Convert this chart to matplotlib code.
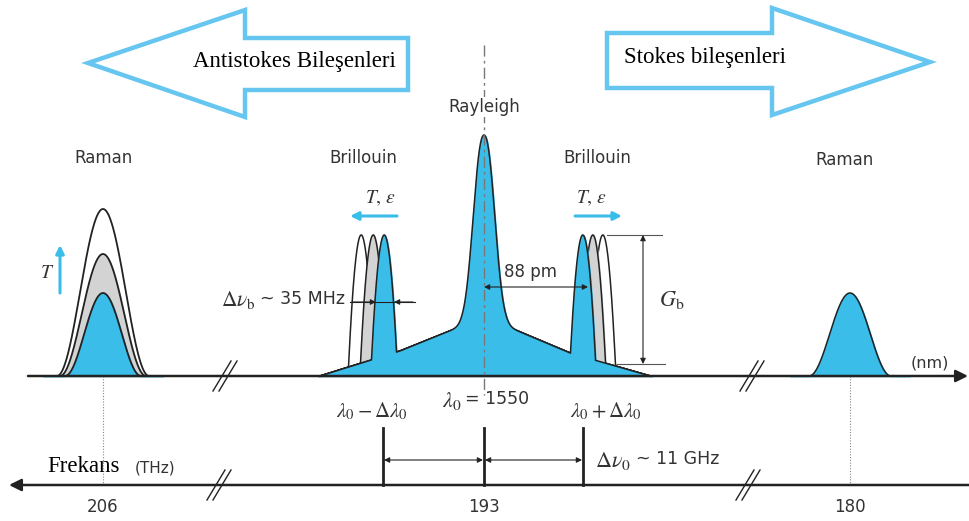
import numpy as np
import matplotlib
matplotlib.use('Agg')
import matplotlib.pyplot as plt
from matplotlib.patches import Polygon

plt.rcParams['font.family'] = 'DejaVu Sans'
plt.rcParams['mathtext.fontset'] = 'stix'

# drawing works in pixel units of the picture (y grows downwards)
base_y = 376     # wavelength axis
freq_y = 485     # frequency axis

# frequency axis ticks (THz)
freq_x = [103, 484, 850]
freq_labels = ['206', '193', '180']

# anti-Stokes Raman peak at three temperatures (white, grey, blue): height, half base width
raman_left_x = 103
raman_left_h = [167, 122, 83]
raman_left_w = [46, 43, 38]
# Stokes Raman peak
raman_right_x = 850
raman_right_h = 83
raman_right_w = 41

# pedestal under the Rayleigh line
ped_x = [320, 400, 462, 484, 506, 570, 650]
ped_h = [0, 25, 50, 54, 50, 23, 0]

rayleigh_x = 484
rayleigh_h = 187
rayleigh_w = 14

# Brillouin peaks (white, grey, blue)
brill_left_x = [361, 373, 384]
brill_right_x = [603, 593, 583]
brill_top = 141
brill_w = 12.5

# lambda0 - dl, lambda0, lambda0 + dl on the frequency axis
shift_x = [383, 484, 583]

blue = '#3bbdea'
arrow_blue = '#66c6f0'
grey = '#d3d3d3'
dark = '#222222'
txt = '#333333'
fills = ['white', grey, blue]


def bell(x, c, h, w):
    u = np.clip(np.abs(x - c) / w, 0, 1)
    return h * np.cos(u * np.pi / 2) ** 2


def spike(x, c, h, w):
    u = np.clip(np.abs(x - c) / w, 0, 1)
    return h * (1 - u ** 2)


def rayleigh(x):
    return rayleigh_h * np.exp(-(np.abs(x - rayleigh_x) / rayleigh_w) ** 2.3)


def pedestal(x):
    return np.interp(x, ped_x, ped_h, left=0, right=0)


fig = plt.figure(figsize=(9.69, 5.21), dpi=100)
ax = fig.add_axes([0, 0, 1, 1])
ax.set_xlim(0, 969)
ax.set_ylim(521, 0)
ax.axis('off')

# big direction arrows
left_arrow = [(88, 63), (245, 10), (245, 38), (408, 38), (408, 90), (245, 90), (245, 117)]
right_arrow = [(607, 33), (772, 33), (772, 8), (930, 62), (772, 115), (772, 88), (607, 88)]
for pts in [left_arrow, right_arrow]:
    ax.add_patch(Polygon(pts, closed=True, fc='white', ec=arrow_blue, lw=3.2, joinstyle='miter'))
ax.text(294, 61, 'Antistokes Bileşenleri', family='Liberation Serif', fontsize=16.5,
        ha='center', va='center')
ax.text(705, 58, 'Stokes bileşenleri', family='Liberation Serif', fontsize=16.5,
        ha='center', va='center')

# Raman anti-Stokes
xr = np.linspace(raman_left_x - 60, raman_left_x + 60, 400)
for h, w, fc in zip(raman_left_h, raman_left_w, fills):
    y = base_y - bell(xr, raman_left_x, h, w)
    ax.fill_between(xr, base_y, y, color=fc, zorder=2)
    ax.plot(xr, y, color=dark, lw=1.3, zorder=2)

# Raman Stokes
xr2 = np.linspace(raman_right_x - 60, raman_right_x + 60, 400)
y = base_y - bell(xr2, raman_right_x, raman_right_h, raman_right_w)
ax.fill_between(xr2, base_y, y, color=blue, zorder=2)
ax.plot(xr2, y, color=dark, lw=1.1, zorder=2)

# Brillouin shifted copies (white, grey) then the blue main profile
xs = np.linspace(318, 652, 3000)
ped = pedestal(xs)
for i in range(2):
    for c in [brill_left_x[i], brill_right_x[i]]:
        amp = brill_top - pedestal(c)
        y = base_y - (ped + spike(xs, c, amp, brill_w))
        ax.fill_between(xs, base_y, y, color=fills[i], zorder=3)
        ax.plot(xs, y, color=dark, lw=1.1, zorder=3)

prof = ped + rayleigh(xs)
for c in [brill_left_x[2], brill_right_x[2]]:
    prof = prof + spike(xs, c, brill_top - pedestal(c), brill_w)
ax.fill_between(xs, base_y, base_y - prof, color=blue, zorder=4)
ax.plot(xs, base_y - prof, color=dark, lw=1.1, zorder=4)

# axes
ax.annotate('', xy=(968, base_y), xytext=(28, base_y),
            arrowprops=dict(arrowstyle='-|>', lw=1.8, color=dark, mutation_scale=18,
                            shrinkA=0, shrinkB=0), zorder=5)
ax.annotate('', xy=(9, freq_y), xytext=(969, freq_y),
            arrowprops=dict(arrowstyle='-|>', lw=1.8, color=dark, mutation_scale=18,
                            shrinkA=0, shrinkB=0), zorder=5)
# axis breaks
for bx, by in [(225, base_y), (752, base_y), (219, freq_y), (748, freq_y)]:
    for off in [-3, 3]:
        ax.plot([bx + off - 9, bx + off + 9], [by + 15, by - 15], color=dark, lw=1.0, zorder=6)

# dotted guides from the Raman peaks
for x0 in [raman_left_x, raman_right_x]:
    ax.plot([x0, x0], [base_y, freq_y], color='#888888', lw=0.8, ls=(0, (1, 1.5)), zorder=1)

# Rayleigh centre line
ax.plot([rayleigh_x, rayleigh_x], [45, 395], color='#777777', lw=1.0,
        ls=(0, (8, 3, 2, 3)), zorder=6)

# labels of the peaks
lab = dict(fontsize=12, ha='center', va='center', color=txt, zorder=7)
ax.text(104, 158, 'Raman', **lab)
ax.text(845, 160, 'Raman', **lab)
ax.text(363, 158, 'Brillouin', **lab)
ax.text(597, 158, 'Brillouin', **lab)
ax.text(484, 107, 'Rayleigh', bbox=dict(fc='white', ec='none', pad=1), **lab)

# temperature arrows
ax.text(47, 272, '$T$', fontsize=14, ha='center', va='center', color=txt)
ax.annotate('', xy=(60, 245), xytext=(60, 293),
            arrowprops=dict(arrowstyle='-|>', lw=2.2, color=blue, mutation_scale=12,
                            shrinkA=0, shrinkB=0))
ax.text(381, 198, r'$T,\,\varepsilon$', fontsize=14, ha='center', va='center', color=txt)
ax.text(592, 198, r'$T,\,\varepsilon$', fontsize=14, ha='center', va='center', color=txt)
ax.annotate('', xy=(350, 216), xytext=(397, 216),
            arrowprops=dict(arrowstyle='-|>', lw=2.2, color=blue, mutation_scale=12,
                            shrinkA=0, shrinkB=0))
ax.annotate('', xy=(622, 216), xytext=(575, 216),
            arrowprops=dict(arrowstyle='-|>', lw=2.2, color=blue, mutation_scale=12,
                            shrinkA=0, shrinkB=0))

thin = dict(lw=0.8, color=dark, mutation_scale=8, shrinkA=0, shrinkB=0)

# Brillouin linewidth
ax.plot([350, 415], [302, 302], color=dark, lw=0.8, zorder=6)
ax.annotate('', xy=(376, 302), xytext=(352, 302), arrowprops=dict(arrowstyle='-|>', **thin), zorder=6)
ax.annotate('', xy=(394, 302), xytext=(413, 302), arrowprops=dict(arrowstyle='-|>', **thin), zorder=6)
ax.text(256, 300, r'$\Delta\nu_{\mathrm{b}}$', fontsize=15.5, ha='right', va='center', color=txt)
ax.text(345, 299, '~ 35 MHz', fontsize=12.5, ha='right', va='center', color=txt)

# 88 pm shift
ax.annotate('', xy=(588, 287), xytext=(484, 287), arrowprops=dict(arrowstyle='<|-|>', **thin), zorder=6)
ax.text(531, 272, '88 pm', fontsize=12, ha='center', va='center', color=txt)

# Brillouin gain
ax.plot([607, 662], [235, 235], color='#555555', lw=0.8)
ax.plot([613, 665], [364, 364], color='#555555', lw=0.8)
ax.annotate('', xy=(643, 235), xytext=(643, 364), arrowprops=dict(arrowstyle='<|-|>', **thin))
ax.text(672, 300, r'$G_{\mathrm{b}}$', fontsize=16, ha='center', va='center', color=txt)

ax.text(930, 363, '(nm)', fontsize=11.5, ha='center', va='center', color=txt)

# wavelength labels and frequency shift marks
ax.text(372, 411, r'$\lambda_{0} - \Delta\lambda_{0}$', fontsize=15,
        ha='center', va='center', color=txt)
ax.text(462, 401, r'$\lambda_{0}$', fontsize=16, ha='right', va='center', color=txt)
ax.text(465, 399, '= 1550', fontsize=12.5, ha='left', va='center', color=txt)
ax.text(606, 411, r'$\lambda_{0} + \Delta\lambda_{0}$', fontsize=15,
        ha='center', va='center', color=txt)
for x0 in shift_x:
    ax.plot([x0, x0], [428, freq_y], color=dark, lw=2.0, zorder=5)
for a, b in zip(shift_x[:-1], shift_x[1:]):
    ax.annotate('', xy=(b - 1, 460), xytext=(a + 1, 460),
                arrowprops=dict(arrowstyle='<|-|>', **thin))
ax.text(595, 461, r'$\Delta\nu_{0}$', fontsize=16, ha='left', va='center', color=txt)
ax.text(636, 459, '~ 11 GHz', fontsize=12.5, ha='left', va='center', color=txt)

# frequency axis labels
ax.text(84, 466, 'Frekans', family='Liberation Serif', fontsize=16.5, ha='center', va='center')
ax.text(155, 468, '(THz)', fontsize=11, ha='center', va='center', color=txt)
for x0, t in zip(freq_x, freq_labels):
    ax.text(x0, 507, t, fontsize=12, ha='center', va='center', color=txt)

fig.savefig('out.png', dpi=100)
